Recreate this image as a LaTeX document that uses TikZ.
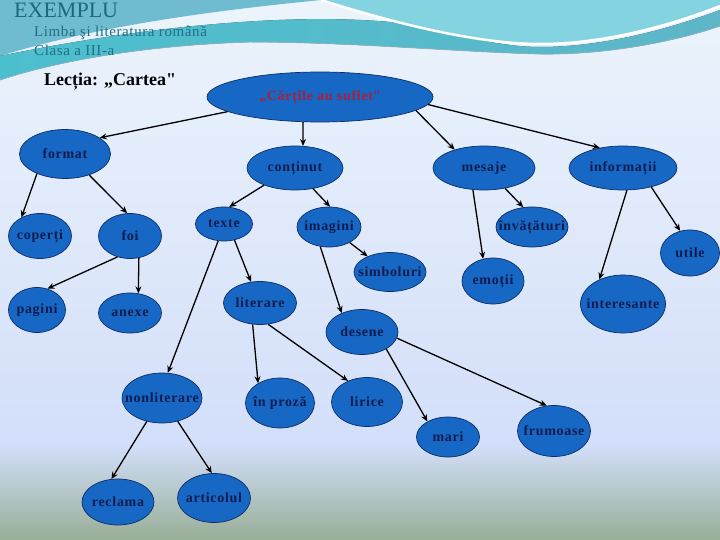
\documentclass[tikz,border=0pt]{standalone}
\usepackage{fontspec}
\setmainfont{Liberation Serif}
\newfontfamily\nodefont[LetterSpace=5]{Liberation Serif}
\newfontfamily\subfont[LetterSpace=4]{Liberation Serif}
\newfontfamily\rawfont[Ligatures=TeXOff]{Liberation Serif}
\usetikzlibrary{shapes.geometric,arrows.meta}
\definecolor{ellblue}{HTML}{1668C4}
\definecolor{ellborder}{HTML}{0E2C68}
\definecolor{nodetext}{HTML}{101C50}
\definecolor{roottext}{HTML}{A8203C}
\definecolor{titleteal}{HTML}{1A6A7E}
\definecolor{subteal}{HTML}{1F6F86}
\definecolor{bgtop}{HTML}{ECF4FB}
\definecolor{bgmid}{HTML}{D3DFFA}
\definecolor{bgbot}{HTML}{97AD96}
\definecolor{tealA}{HTML}{6FBBD0}
\definecolor{tealB}{HTML}{84D3E0}
\definecolor{cyanband}{HTML}{52D2E2}
\definecolor{paleband}{HTML}{D2ECF3}
\definecolor{bandright}{HTML}{66C8DC}
\definecolor{wline}{HTML}{8AB4C0}
\newcommand{\ntx}[1]{\makebox[0pt]{#1}}
\newcommand{\sq}{{\rawfont\bfseries"}}
\begin{document}
\begin{tikzpicture}[x=1pt,y=-1pt,
  el/.style 2 args={ellipse,draw=ellborder,line width=0.7pt,fill=ellblue,
    minimum width=#1pt,minimum height=#2pt,inner sep=0pt,text=nodetext,
    font=\nodefont\bfseries\fontsize{14}{16}\selectfont},
  arr/.style={-{Stealth[length=7pt,width=6pt]},line width=1.3pt,black}]
\useasboundingbox (0,0) rectangle (720,540);
% background
\fill[top color=bgtop,bottom color=bgmid] (0,0) rectangle (720,446);
\fill[top color=bgmid,bottom color=bgbot] (0,445) rectangle (720,540);
% top decoration
\fill[tealA] (0,0) -- (321,0) .. controls (220,10) and (100,25) .. (0,56) -- cycle;
\fill[tealB] (321,0) .. controls (400,25) and (480,44) .. (540,44)
  .. controls (610,44) and (680,22) .. (720,6) -- (720,0) -- cycle;
\fill[left color=cyanband,middle color=paleband,right color=bandright,opacity=0.9]
  (0,56) .. controls (150,25) and (300,12) .. (400,23)
  .. controls (460,35) and (500,47) .. (540,47)
  .. controls (610,47) and (680,25) .. (720,10) -- (720,26)
  .. controls (680,40) and (610,55) .. (540,54)
  .. controls (460,52) and (350,42) .. (250,42)
  .. controls (150,45) and (60,60) .. (0,80) -- cycle;
\draw[white,line width=2.5pt] (321,0) .. controls (400,25) and (480,44) .. (540,44)
  .. controls (610,44) and (680,22) .. (720,6);
\draw[wline,line width=0.8pt] (0,80) .. controls (60,60) and (150,45) .. (250,42)
  .. controls (350,42) and (460,52) .. (540,54)
  .. controls (610,55) and (680,40) .. (720,26);
% titles
\node[anchor=base west,inner sep=0pt,text=titleteal,font=\fontsize{22}{24}\selectfont] (title) at (14,18) {EXEMPLU};
\node[anchor=base west,inner sep=0pt,text=subteal,font=\subfont\fontsize{15}{17}\selectfont] (subj) at (34,37) {Limba şi literatura română};
\node[anchor=base west,inner sep=0pt,text=subteal,font=\subfont\fontsize{15}{17}\selectfont] (clasa) at (34,56) {Clasa a III-a};
\node[anchor=base west,inner sep=0pt,text=black,font=\bfseries\fontsize{18}{20}\selectfont] (lectia) at (44,86) {Lecția: „Cartea\sq};
% nodes
\node[el={226}{50}] (root) at (320,97) {\ntx{\textcolor{roottext}{„Cărțile au suflet\sq}}};
\node[el={91}{49}] (format) at (65,154) {\ntx{format}};
\node[el={63}{45}] (cop) at (40,236) {\ntx{coperți}};
\node[el={63}{45}] (foi) at (130,236) {\ntx{foi}};
\node[el={57}{45}] (pag) at (37,310) {\ntx{pagini}};
\node[el={63}{40}] (anexe) at (130,313) {\ntx{anexe}};
\node[el={96}{44}] (cont) at (295,168) {\ntx{conținut}};
\node[el={102}{44}] (mes) at (484,168) {\ntx{mesaje}};
\node[el={108}{44}] (info) at (623,168) {\ntx{informații}};
\node[el={57}{34}] (texte) at (224,224) {\ntx{texte}};
\node[el={64}{40}] (imag) at (329,227) {\ntx{imagini}};
\node[el={72}{40}] (invat) at (532,227) {\ntx{învățături}};
\node[el={59}{46}] (utile) at (690,253) {\ntx{utile}};
\node[el={72}{39}] (simb) at (390,272) {\ntx{simboluri}};
\node[el={62}{46}] (emotii) at (493,281) {\ntx{emoții}};
\node[el={85}{58}] (inter) at (623,304) {\ntx{interesante}};
\node[el={73}{43}] (lit) at (260,303) {\ntx{literare}};
\node[el={72}{45}] (desene) at (362,332) {\ntx{desene}};
\node[el={80}{50}] (nonlit) at (162,398) {\ntx{nonliterare}};
\node[el={69}{50}] (proza) at (280,403) {\ntx{în proză}};
\node[el={71}{49}] (lirice) at (367,402) {\ntx{lirice}};
\node[el={63}{40}] (mari) at (448,437) {\ntx{mari}};
\node[el={73}{51}] (frum) at (554,431) {\ntx{frumoase}};
\node[el={72}{46}] (recl) at (118,502) {\ntx{reclama}};
\node[el={73}{49}] (artic) at (214,498) {\ntx{articolul}};
% connectors
\draw[arr] (root.189) -- (format.25);
\draw[arr] (root.236) -- (cont.70);
\draw[arr] (root.352) -- (mes.148);
\draw[arr] (root.356) -- (info.139);
\draw[arr] (format.215) -- (cop.135);
\draw[arr] (format.319) -- (foi.97);
\draw[arr] (foi.239) -- (pag.64);
\draw[arr] (foi.292) -- (anexe.67);
\draw[arr] (cont.209) -- (texte.73);
\draw[arr] (cont.311) -- (imag.87);
\draw[arr] (texte.303) -- (lit.113);
\draw[arr] (texte.251) -- (nonlit.77);
\draw[arr] (imag.323) -- (simb.145);
\draw[arr] (imag.246) -- (desene.137);
\draw[arr] (lit.251) -- (proza.138);
\draw[arr] (lit.291) -- (lirice.132);
\draw[arr] (desene.325) -- (mari.143);
\draw[arr] (desene.350) -- (frum.106);
\draw[arr] (nonlit.237) -- (recl.106);
\draw[arr] (nonlit.304) -- (artic.95);
\draw[arr] (mes.316) -- (invat.114);
\draw[arr] (mes.243) -- (emotii.114);
\draw[arr] (info.280) -- (inter.134);
\draw[arr] (info.326) -- (utile.114);
\end{tikzpicture}
\end{document}
